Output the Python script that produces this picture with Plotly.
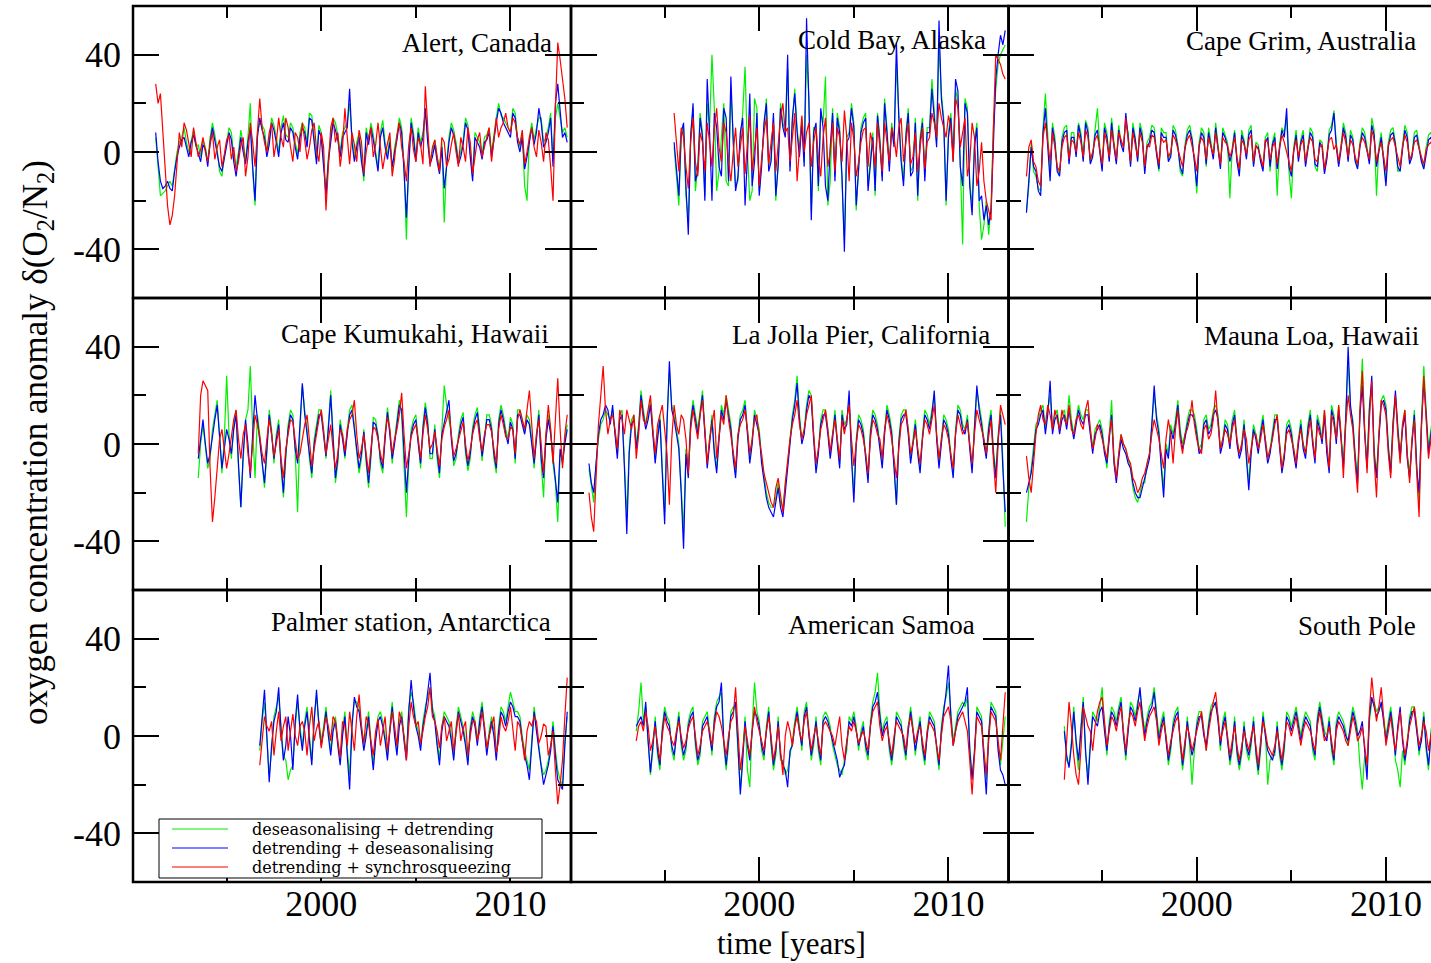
import numpy as np
import plotly.graph_objects as go
from plotly.subplots import make_subplots

# ---------------- data ----------------
STATIONS = ["Alert, Canada", "Cold Bay, Alaska", "Cape Grim, Australia",
            "Cape Kumukahi, Hawaii", "La Jolla Pier, California", "Mauna Loa, Hawaii",
            "Palmer station, Antarctica", "American Samoa", "South Pole"]
START_YEAR = [1991.25, 1995.5, 1991.0, 1993.5, 1991.0, 1991.0, 1996.75, 1993.5, 1993.0]
STEP_YEARS = 0.25          # spacing of the main samples; *_MID samples sit half a step later
METHODS = ["deseasonalising + detrending", "detrending + deseasonalising",
           "detrending + synchrosqueezing"]
X_TICKS = [2000, 2010]
Y_TICKS = [-40, 0, 40]
Y_TICKTEXT = ["-40", "0", "40"]

# Alert, Canada
ALERT_DSDT = [6, -18, -16, -12, -6, 4, 10, 0, 9, 3, 5, -4, 12, 1, -10, 4, 8, -6, 9, -3,
              20, -22, 12, 9, 5, 11, 0, 15, 6, 10, -1, 12, 4, 15, -3, 8, -16, 6, 12, 0,
              10, 20, -2, 8, -12, 5, 7, -6, 13, -1, -8, 7, 10, -36, 14, -2, 4, 16, -3, 5,
              -7, -29, 6, 9, -3, 5, 11, -10, 6, -1, 7, 0, 14, 15, 12, 8, 16, 2, -14, 6,
              5, 14, 4, 10, -4, 20, 8, 6]
ALERT_DSDT_MID = [-8, -17, -14, -14, 0, 6, 4, 5, 2, -2, 2, 6, 7, -8, -2, 10, -2, 0, 2, 6,
                  -8, 8, 11, 0, 14, 6, 10, 7, 12, 4, 8, 10, 16, 6, 11, -4, -2, 14, 7, 8,
                  12, 6, 4, -2, 10, 12, 0, 8, 4, 6, 2, 14, -6, -4, 8, 10, 8, 6, 0, -2,
                  4, -4, 12, 4, 0, 14, 0, 8, 4, 6, 10, 8, 20, 14, 10, 18, 6, 8, -20, 12,
                  10, 14, 6, 16, 14, 14, 10]
ALERT_DTDS = [8, -12, -14, -15, -8, 2, 6, -2, 7, 0, 3, -6, 10, -1, -8, 2, 5, -10, 6, -5,
              10, -20, 14, 6, 3, 9, -2, 12, 4, 8, -3, 10, 2, 13, -5, 6, -18, 4, 9, -2,
              8, 26, -4, 6, -10, 3, 5, -8, 10, -3, -6, 5, 8, -27, 12, -4, 2, 18, -5, 3,
              -9, -15, 4, 7, -5, 3, 9, -12, 4, -3, 5, -2, 12, 16, 10, 6, 14, 0, -7, 4,
              3, 18, 2, 8, -6, 28, 6, 4]
ALERT_DTDS_MID = [-4, -15, -12, -16, -2, 5, 2, 4, 3, -4, 1, 4, 5, -6, -3, 8, -4, -2, 0, 4,
                  -6, 6, 9, -2, 12, 4, 8, 5, 10, 2, 6, 8, 14, 4, 9, -6, -4, 12, 5, 6,
                  10, 4, 2, -4, 8, 10, -2, 6, 2, 4, 0, 12, -8, -6, 6, 8, 6, 4, -2, -4,
                  2, -6, 10, 2, -2, 12, -2, 6, 2, 4, 8, 6, 18, 12, 8, 16, 4, 6, -2, 10,
                  8, 12, 4, 14, 20, 16, 8]
ALERT_DTSQ = [28, 24, -5, -30, -18, 8, 12, 4, 10, -2, 6, -4, 8, 2, -6, 5, -3, -8, 3, -10,
              12, -6, 22, 4, 8, -2, 14, 2, 10, -4, 6, 12, -3, 9, 1, 8, -24, 10, 4, -6,
              18, -5, 3, 9, -9, 6, -2, 12, -7, 4, -10, 7, 2, -12, 10, -4, 3, 27, -6, 5,
              -8, 4, -3, 8, -6, 2, 10, -9, 5, -2, 6, -4, 14, 10, 16, 8, 12, 3, -5, 6,
              2, 9, -4, 5, -20, 45, 30, 10]
ALERT_DTSQ_MID = [20, 10, -22, -26, -6, 2, 9, -2, 4, 1, 0, 3, -3, 5, -1, 7, 2, -4, 6, -2,
                  4, 8, 10, 0, 12, 4, 6, 14, 2, 8, 0, 5, 2, 12, -4, 2, -6, 14, 8, 2,
                  6, 8, -4, 4, 0, 10, 3, 2, -1, 8, -3, 12, -4, 3, 1, 6, -5, 8, 2, -2,
                  6, -6, 3, 0, 6, -4, 4, -2, 8, 2, 10, 6, 6, 12, 10, 14, 6, 9, 0, 10,
                  -2, 4, 8, -6, 18, 38, 22]

# Cold Bay, Alaska
COLDBAY_DSDT = [2, -22, 10, -28, 18, -6, 8, 20, 40, -16, 8, -12, 26, -14, 6, 35, -20, 22, -16, 10,
                -6, 14, -4, 12, 34, 12, 10, 14, 40, -24, 10, 16, 31, -12, -10, 10, -36, 8, 12, -4,
                14, -14, 8, 16, -10, 10, 12, 36, -2, 8, -8, 14, 6, -10, 10, 16, 44, 14, 8, -2,
                20, -38, 18, -22, 12, -36, -20, -22, 26, 40, 44]
COLDBAY_DSDT_MID = [-10, 6, -18, 8, -16, 16, -18, 10, 18, -8, 20, -14, 6, -12, 16, 0, -16, 18, -4, 22,
                    -2, -20, 20, 8, -6, 26, 0, -4, 22, 10, -16, 12, -22, 18, 16, -12, 6, 20, -24, 10,
                    16, -2, -18, 6, 22, -6, 4, 16, -12, 18, -6, -20, 14, 10, 30, 4, 24, -22, 16, 26,
                    -4, 22, -12, 4, -22, -30, -34, 10, 36, 42]
COLDBAY_DTDS = [4, -18, 12, -34, 20, -8, 6, 30, -20, 10, -10, 14, 31, -16, 8, -22, 24, -4, -18, 12,
                -8, 16, -6, 10, 40, 14, 8, 12, 55, -28, 12, 18, -14, 2, -12, 8, -41, 6, 10, -6,
                12, -16, 6, 15, -12, 8, 10, 45, -4, 6, -10, 12, 4, -12, 8, 14, 54, 12, 6, -4,
                25, -14, 16, -26, 10, -18, -22, -24, 30, 48, 50]
COLDBAY_DTDS_MID = [-6, 8, -14, 6, -12, 14, -20, 8, 16, -6, 18, -12, 4, -10, 14, -2, -14, 16, -6, 20,
                    -4, -18, 18, 6, -8, 24, -2, -6, 20, 8, -14, 10, -20, 16, 14, -10, 4, 18, -22, 8,
                    14, -4, -16, 4, 20, -8, 2, 14, -14, 16, -8, -18, 12, 8, 26, 2, 22, -20, 14, 30,
                    -6, 20, -14, 2, -20, -28, -30, 8, 40, 44]
COLDBAY_DTSQ = [16, -8, 6, -15, 14, -10, 4, 12, -6, 18, -4, 8, -12, 10, 2, -9, 15, 0, -14, 8,
                -5, 12, 3, 20, 10, 6, -12, 15, 8, -6, 10, -10, 14, 0, -8, 6, 17, -12, 5, -4,
                9, -6, 3, 12, -8, 5, 10, -2, 14, 4, -5, 8, 2, -7, 6, 12, 20, 10, 15, -4,
                18, 8, -10, 12, -14, 4, -20, -28, 40, 36, 30]
COLDBAY_DTSQ_MID = [2, 10, -6, 4, -4, 8, -8, 4, 10, 2, 12, -4, 0, -6, 10, 4, -8, 10, -2, 14,
                    4, -8, 14, 8, -4, 16, 2, 0, 12, 4, -2, 6, -6, 12, 10, -4, 6, 12, -10, 4,
                    10, 8, -6, 2, 12, -4, 6, 10, -4, 12, -2, -8, 10, 4, 16, 6, 14, 6, 10, 22,
                    2, 14, -4, 6, -8, -12, -24, 10, 38, 32]

# Cape Grim, Australia
CAPEGRIM_DSDT = [-24, 4, -10, -16, 24, -10, 6, -9, 10, -4, 8, 12, -3, 10, -1, 18, -7, 8, 14, -4,
                 4, 12, -5, 6, 12, -8, 6, 10, -8, 8, -3, 11, 3, -10, 9, 6, -17, 10, -6, 4,
                 12, -6, 7, -19, 9, -9, 5, 9, -5, 3, -7, 8, 4, -18, 10, 14, -19, 9, 5, -5,
                 10, -6, 5, -8, 9, 17, -5, 12, -3, 6, -6, 10, 2, 14, -18, 8, -12, 9, 4, -7,
                 11, -4, 8, 3, -6, 7, 4]
CAPEGRIM_DSDT_MID = [-14, -8, -15, 10, 4, 12, -7, 6, 11, 8, -1, 8, 13, -4, 9, 2, 12, -3, 4, 11,
                     2, 8, 12, -3, 8, 4, 11, 0, 10, 8, -1, 9, -8, 3, 11, -3, 4, 8, 10, -2,
                     3, 10, 4, 2, -3, 9, -2, 11, 4, -3, 6, -8, 8, 3, 8, -8, 2, -3, 9, 3,
                     8, -8, 4, -2, 11, 4, 3, 8, 9, -3, 4, 8, -4, 9, 2, -3, 4, 10, -8, 3,
                     8, -1, 9, -3, 2, 8]
CAPEGRIM_DTDS = [-25, 2, -8, -18, 18, -12, 4, -10, 8, -5, 6, 11, -4, 8, -2, 9, -8, 6, 12, -5,
                 3, 16, -6, 5, 10, -9, 4, 8, -7, 6, -4, 9, 2, -9, 7, 5, -14, 8, -5, 3,
                 10, -7, 6, -4, 8, -10, 4, 7, -6, 2, -8, 6, 3, -7, 9, 18, -10, 7, 4, -6,
                 8, -5, 4, -9, 7, 16, -6, 10, -4, 5, -7, 8, 1, 11, -6, 6, -14, 7, 3, -8,
                 9, -5, 6, 2, -7, 5, 3]
CAPEGRIM_DTDS_MID = [-12, -6, -16, 8, 2, 10, -8, 4, 9, 6, -2, 6, 12, -5, 7, 0, 10, -4, 2, 9,
                     0, 6, 10, -4, 6, 2, 9, -1, 8, 6, -2, 7, -6, 1, 9, -4, 2, 6, 8, -3,
                     1, 8, 2, 0, -4, 7, -3, 9, 2, -4, 4, -6, 6, 1, 6, -6, 0, -4, 7, 1,
                     6, -6, 2, -3, 9, 2, 1, 6, 7, -4, 2, 6, -5, 7, 0, -4, 2, 8, -6, 1,
                     6, -2, 7, -4, 0, 6]
CAPEGRIM_DTSQ = [-10, 5, -6, -14, 12, -4, 2, -8, 6, -3, 4, 8, -2, 6, 0, 7, -5, 4, 9, -3,
                 5, 14, -4, 3, 8, -6, 2, 6, -5, 4, -2, 7, 1, -6, 5, 3, -8, 6, -3, 2,
                 8, -5, 4, -2, 6, -7, 3, 5, -4, 1, -6, 4, 2, -5, 7, 0, -8, 5, 3, -4,
                 6, -3, 2, -7, 5, 1, -4, 8, -2, 3, -5, 6, 0, 9, -4, 4, -8, 5, 2, -6,
                 7, -3, 4, 1, -5, 3, 2]
CAPEGRIM_DTSQ_MID = [2, -4, -12, 6, 4, 8, -6, 2, 7, 5, 0, 4, 9, -3, 5, 1, 8, -2, 3, 8,
                     2, 5, 8, -2, 4, 3, 7, 1, 6, 5, 0, 5, -3, 2, 7, -2, 3, 4, 6, -1,
                     2, 6, 3, 1, -2, 5, -1, 7, 3, -2, 5, -3, 4, 2, 4, -4, 1, -2, 5, 2,
                     4, -4, 3, -1, 6, 3, 2, 4, 5, -2, 3, 4, -3, 5, 1, -2, 3, 6, -3, 2,
                     4, -1, 5, -2, 1, 4]

# Cape Kumukahi, Hawaii
KUMUKAHI_DSDT = [-14, 8, -10, 6, 18, -12, 28, -6, 14, -26, 10, 32, -14, 4, -18, 14, -8, 10, -22, 8,
                 12, -28, 24, 6, -14, 8, 14, -6, 22, -16, 10, -6, 14, 8, -12, 6, -18, 11, 4, -12,
                 15, -8, 10, 12, -30, 6, 12, -10, 17, -6, 8, -14, 24, 10, -9, 4, 13, -11, 7, 15,
                 -7, 12, 8, -12, 16, 6, 11, -8, 14, 5, 10, -10, 14, -22, 12, -8, -32, -6, 8]
KUMUKAHI_DSDT_MID = [0, -2, -6, 12, 4, 2, 4, 8, -10, -6, 14, 6, 12, -8, -4, 6, 4, -10, -6, 14,
                     -4, 6, 14, -6, 2, 14, 6, 8, 4, -8, 4, 6, 16, -4, -6, -8, -6, 10, -8, 4,
                     6, 2, 18, -8, -8, 10, 2, 8, 10, -6, -6, 6, 16, 4, -6, 10, -4, -6, 12, 6,
                     4, 12, -6, 10, 12, 2, 8, 14, 10, 12, 2, 4, -8, 4, 6, -16, -4, 2]
KUMUKAHI_DTDS = [-6, 10, -8, 4, 16, -10, 6, -4, 12, -26, 10, -14, 20, 2, -16, 12, -6, 8, -20, 6,
                 10, -8, 25, 4, -12, 6, 12, -5, 20, -14, 8, -5, 12, 6, -10, 5, -16, 9, 3, -10,
                 13, -6, 8, 14, -20, 4, 10, -8, 15, -4, 6, -12, 9, 18, -7, 3, 11, -9, 5, 13,
                 -5, 10, 6, -10, 14, 4, 9, -6, 12, 4, 8, -8, 12, -14, 10, -6, -24, -8, 6]
KUMUKAHI_DTDS_MID = [2, 0, -4, 10, 2, -2, 2, 6, -8, -4, 0, 4, 10, -6, -2, 4, 2, -8, -4, 12,
                     -2, 8, 12, -4, 0, 12, 4, 6, 2, -6, 2, 4, 14, -2, -4, -6, -4, 8, -6, 2,
                     4, 0, 16, -6, -6, 8, 0, 6, 8, -4, -4, 4, 14, 2, -4, 8, -2, -4, 10, 4,
                     2, 10, -4, 8, 10, 0, 6, 12, 8, 10, 0, 2, -6, 2, 4, -14, -2, 0]
KUMUKAHI_DTSQ = [-4, 26, 22, -32, -8, 6, -10, 4, 14, -6, 8, -12, 12, 3, -8, 10, -5, 6, -14, 4,
                 9, -6, 2, 12, -9, 5, 14, -4, 8, -10, 6, -3, 10, 18, -6, 4, -12, 7, 2, -8,
                 11, -4, 6, 21, -10, 3, 8, -6, 12, -2, 5, -9, 7, 14, -5, 2, 9, -7, 4, 10,
                 -3, 8, 5, -8, 12, 3, 7, -4, 14, 6, 22, -6, 10, -12, 16, -8, 27, -10, 12]
KUMUKAHI_DTSQ_MID = [20, 24, -10, -22, 2, -2, -4, 10, 2, 4, -4, 2, 8, -4, 2, 4, 0, -6, -2, 10,
                     2, -4, 8, 0, -2, 10, 4, 2, -2, -4, 4, 6, 12, 4, -2, -4, -2, 6, -4, 4,
                     6, 2, 12, 4, -4, 6, 2, 4, 6, 0, -2, 2, 10, 4, -2, 6, 0, -2, 8, 2,
                     4, 8, -2, 6, 8, 2, 6, 10, 10, 14, 8, 4, 0, 4, 6, 10, 6, 4]

# La Jolla Pier, California
LAJOLLA_DSDT = [-10, -24, 2, 10, 12, 14, -4, 14, -30, 10, 0, 22, 8, 18, -6, 12, -28, 30, 12, 0,
                -36, -10, 18, 6, 22, -8, 12, -10, 16, 20, 8, -12, 12, 18, -6, 14, 6, -14, -24, -26,
                -16, -26, -8, 12, 28, 2, 16, 20, -10, 10, 14, -4, 14, -8, 8, 18, -20, 12, 6, -14,
                14, 8, -8, 16, 6, -25, 12, 14, -6, 10, -10, 14, 8, 20, -8, 12, 6, -12, 16, 8,
                12, -10, 22, 10, -4, 14, -12, 14, -34]
LAJOLLA_DSDT_MID = [-18, -8, 8, 14, 10, 6, 12, -8, -2, 12, 8, 14, 12, 6, 4, -10, 10, 16, 6, -18,
                    -2, 10, 12, 14, 6, 2, -2, 4, 12, 14, -4, 4, 14, 6, 2, 10, -6, -20, -26, -22,
                    -24, -18, 2, 18, 12, 6, 22, 4, -2, 14, 6, 4, 2, 14, 10, -4, 2, 10, -4, 6,
                    12, 0, 6, 12, -8, 2, 14, 6, 2, -2, 4, 12, 14, 4, 2, 10, -4, 6, 14, 6,
                    0, 8, 16, 2, 8, -2, 4, -6]
LAJOLLA_DTDS = [-8, -20, 4, 12, 14, 16, -6, 12, -37, 8, -2, 20, 6, 16, -8, 10, -33, 34, 10, -2,
                -43, -14, 16, 4, 20, -10, 10, -12, 14, 18, 6, -14, 10, 16, -8, 12, 4, -16, -26, -30,
                -18, -30, -10, 10, 25, 0, 14, 18, -12, 8, 12, -6, 12, -10, 6, 22, -24, 10, 4, -16,
                12, 6, -10, 14, 4, -25, 10, 12, -8, 8, -12, 12, 6, 22, -10, 10, 4, -14, 14, 6,
                10, -12, 24, 8, -6, 12, -14, 12, -28]
LAJOLLA_DTDS_MID = [-16, -6, 10, 16, 8, 4, 10, -10, -4, 10, 6, 12, 10, 4, 2, -12, 8, 14, 4, -20,
                    -4, 8, 10, 12, 4, 0, -4, 2, 10, 12, -6, 2, 12, 4, 0, 8, -8, -22, -28, -24,
                    -26, -20, 0, 16, 10, 4, 20, 2, -4, 12, 4, 2, 0, 12, 8, -6, 0, 8, -6, 4,
                    10, -2, 4, 10, -10, 0, 12, 4, 0, -4, 2, 10, 12, 2, 0, 8, -6, 4, 12, 4,
                    -2, 6, 14, 0, 6, -4, 2, -10]
LAJOLLA_DTSQ = [-20, -36, 8, 32, 4, 12, -2, 10, 14, 6, -6, 18, 8, 20, -4, 12, 6, -25, 16, 4,
                10, -12, 14, 2, 18, -8, 8, -6, 12, 20, 3, -10, 8, 14, -4, 10, 2, -12, -20, -26,
                -14, -28, -6, 8, 18, 2, 12, 20, -8, 6, 14, -3, 10, -6, 4, 16, -9, 8, 2, -12,
                10, 4, -6, 12, 2, -14, 8, 14, -4, 6, -8, 10, 4, 16, -6, 8, 2, -10, 12, 4,
                9, -8, 14, 6, -4, 10, -20, 16, 8]
LAJOLLA_DTSQ_MID = [-30, -12, 20, 14, 10, 6, 14, 4, 10, 12, 4, 10, 14, 6, 8, 16, -4, 2, 8, 12,
                    2, 6, 8, 12, 6, 2, 14, 4, 8, 10, -4, 4, 10, 6, 2, 12, -4, -16, -24, -18,
                    -22, -16, 2, 12, 8, 6, 16, 4, -2, 10, 6, 4, 2, 10, 10, 2, 0, 6, -4, 2,
                    8, 2, 6, 8, -6, -2, 10, 6, 0, -2, 2, 8, 10, 4, 2, 6, -4, 4, 8, 6,
                    0, 4, 10, 2, 4, -6, 0, 12]

# Mauna Loa, Hawaii
MAUNALOA_DSDT = [-32, -10, 8, 14, 6, 20, 12, 6, 14, 20, 4, 16, 10, 14, -2, 8, 6, -10, 18, -14,
                 4, -2, -10, -22, -20, -16, -4, 20, 6, -18, -4, 4, 18, 0, 10, 14, 6, 0, 12, 8,
                 16, -2, 10, 0, 14, -4, 10, -16, 8, -2, 12, -6, 6, 12, -10, 8, 6, -8, 10, -4,
                 14, -6, 8, 14, -10, 12, 16, -8, 34, 10, -14, 35, -8, 24, -12, 18, 16, -10, 20, -4,
                 14, -12, 14, -26, 32, -2, 12]
MAUNALOA_DSDT_MID = [-18, -2, 10, 16, 14, 6, 14, 12, 8, 10, 10, 12, 14, 6, 6, 10, -2, 4, -6, -4,
                     0, -6, -18, -24, -16, -8, 10, 12, -8, 0, 8, 10, 6, 4, 14, 12, -2, 10, 6, 14,
                     12, 2, 8, 10, 2, 0, -4, -2, 4, 6, 2, -2, 12, 0, -4, 10, -2, 2, 0, 8,
                     2, 12, 2, -2, 16, 2, 4, 12, 14, -4, 14, 6, 16, -2, 4, 20, 0, 10, 8, 8,
                     -4, 2, -8, 10, 14, 6]
MAUNALOA_DTDS = [-20, -12, 6, 12, 4, 26, 10, 4, 12, 14, 2, 14, 8, 12, -4, 6, 4, -8, 12, -16,
                 2, -4, -10, -20, -22, -14, -6, 24, 4, -22, -6, 2, 16, -2, 8, 12, 4, -2, 10, 6,
                 14, -4, 8, -2, 12, -6, 8, -19, 6, -4, 10, -8, 4, 10, -12, 6, 4, -10, 8, -6,
                 12, -8, 6, 12, -12, 10, 14, -10, 40, 8, -16, 24, -10, 28, -14, 16, 14, -12, 22, -6,
                 12, -14, 12, -20, 26, -4, 10]
MAUNALOA_DTDS_MID = [-16, -4, 8, 14, 12, 4, 12, 10, 6, 8, 8, 10, 12, 4, 4, 8, -4, 2, -8, -6,
                     -2, -8, -16, -22, -18, -10, 8, 10, -10, -2, 6, 8, 4, 2, 12, 10, -4, 8, 4, 12,
                     10, 0, 6, 8, 0, -2, -6, -4, 2, 4, 0, -4, 10, -2, -6, 8, -4, 0, -2, 6,
                     0, 10, 0, -4, 14, 0, 2, 10, 16, -6, 12, 4, 14, -4, 2, 18, -2, 8, 6, 6,
                     -6, 0, -10, 8, 12, 4]
MAUNALOA_DTSQ = [-5, -20, 4, 16, 8, 12, 14, 6, 10, 16, 4, 12, 6, 18, -2, 8, 2, -6, 10, -14,
                 4, -2, -8, -16, -18, -12, -4, 10, 2, -10, 10, -8, 14, -4, 6, 18, 2, -4, 8, 4,
                 22, -2, 6, 0, 10, -4, 6, -8, 4, -2, 8, -6, 2, 12, -10, 4, 2, -8, 6, -4,
                 10, -6, 4, 14, -10, 8, 16, -14, 20, 6, -20, 30, -12, 26, -22, 18, 12, -14, 20, -8,
                 14, -16, 10, -30, 28, -6, 8]
MAUNALOA_DTSQ_MID = [-14, -8, 12, 10, 16, 6, 10, 14, 8, 6, 10, 8, 14, 6, 2, 6, -2, 4, -6, -4,
                     0, -6, -14, -20, -14, -8, 4, 6, -4, 2, 4, 6, 2, 4, 10, 8, -2, 6, 2, 10,
                     8, 2, 4, 6, 2, 0, 2, -2, 4, 2, 2, -2, 8, 0, -4, 6, -2, 2, 0, 4,
                     2, 8, 2, 0, 12, 2, 4, 8, 12, -8, 14, 6, 10, -6, 4, 16, -4, 6, 4, 8,
                     -4, 2, -12, 6, 10, 2]

# Palmer station, Antarctica
PALMER_DSDT = [-6, 14, -16, 8, 16, -8, -18, -12, 14, -4, 12, -10, 16, -2, 12, -6, 8, -10, 10, -16,
               14, 12, -4, 10, -12, 8, 6, -8, 14, -6, 10, -8, 18, 6, -4, 12, 20, 8, -10, 10,
               6, -8, 12, 4, -10, 10, -2, 14, -6, 8, -8, 12, 6, 18, 10, 8, -6, -14, 12, -4,
               -16, -10, 6, -14, -20, 8]
PALMER_DSDT_MID = [6, -2, -6, 12, 4, -10, -14, 4, 4, 6, 0, 8, 6, 4, 2, 4, -2, 2, -6, 6,
                   14, 4, 2, -2, 0, 10, 0, 4, 2, 6, 0, 12, 14, 2, 6, 16, 12, -2, 4, 8,
                   0, 4, 8, -2, 4, 6, 8, 4, 2, 2, 4, 10, 12, 14, 10, 0, -10, -2, 4, -12,
                   -14, -4, -6, -18, -2]
PALMER_DTDS = [-4, 19, -19, 6, 20, -10, 8, -14, 17, -6, 10, -12, 19, -4, 10, -8, 6, -12, 8, -22,
               16, 10, -6, 8, -14, 6, 4, -10, 12, -8, 8, -10, 23, 4, -6, 10, 26, 6, -12, 8,
               4, -10, 10, 2, -12, 8, -4, 12, -8, 6, -10, 10, 4, 14, 8, 6, -8, -18, 10, -6,
               -20, -12, 4, -18, -22, 10]
PALMER_DTDS_MID = [8, 0, -4, 10, 2, -4, 0, 6, 2, 4, -2, 6, 4, 2, 0, 2, -4, 0, -8, 4,
                   12, 2, 0, -4, -2, 8, -2, 2, 0, 4, -2, 10, 12, 0, 4, 18, 10, -4, 2, 6,
                   -2, 2, 6, -4, 2, 4, 6, 2, 0, 0, 2, 8, 10, 12, 8, -2, -12, -4, 2, -14,
                   -16, -6, -8, -20, -4]
PALMER_DTSQ = [-12, 8, 2, -8, 10, 4, -6, 9, -4, 6, -8, 12, 3, -5, 8, -2, 6, -9, 4, 10,
               -6, 17, -3, 5, -8, 7, 2, -6, 10, -4, 6, -10, 14, 4, -3, 8, 20, 6, -5, 8,
               2, -6, 9, 3, -8, 6, -2, 10, -5, 4, -7, 8, 2, 12, -6, 4, -10, 6, 8, -3,
               5, -8, 2, -28, -10, 24]
PALMER_DTSQ_MID = [-2, 4, 6, 2, -2, 8, 2, 0, 4, 2, 4, -2, 6, 2, 4, 8, -2, 6, -4, 2,
                   8, 4, 8, -2, 2, -4, 8, 2, 4, 10, 0, 4, 8, 6, 2, 12, 8, 2, 4, -2,
                   6, 2, -2, 6, 0, 6, 2, 4, 0, 8, -2, 4, 6, 2, 6, -2, 2, 4, 6, 0,
                   4, -4, -14, -20, 8]

# American Samoa
SAMOA_DSDT = [2, 22, 12, -16, 8, -14, 12, 6, -10, 10, -10, 6, 12, -12, 6, 10, -8, 14, 18, -14,
              10, 12, -22, 8, -21, 22, 6, -10, 12, -14, 8, -10, -14, -2, 12, -6, 14, -10, 8, -12,
              10, 4, -8, -14, -10, 8, 10, -6, 6, -10, 14, 26, 2, 8, -12, 10, 6, -10, 12, -8,
              8, -12, 10, 6, -14, 12, 22, -2, 10, 14, 16, -16, 12, 8, -18, 14, 10, -12, 8]
SAMOA_DSDT_MID = [10, 6, -4, -6, -8, 4, 8, -6, 2, -4, -6, 10, -4, -8, 8, 2, 8, 16, -4, -4,
                  12, -6, -8, -14, 4, 10, -6, 4, -4, -8, -10, -16, -8, 6, 4, 10, 2, -4, -6, 8,
                  8, -4, -12, -16, -6, 6, 4, 2, -6, 6, 18, 10, 6, -6, -4, 8, -4, 4, 4, 2,
                  -6, 2, 8, -6, 4, 16, 10, 4, 12, 12, -4, -8, 10, -8, 2, 12, -4, -2]
SAMOA_DTDS = [4, 8, 14, -15, 6, -12, 10, 4, -8, 8, -8, 4, 10, -10, 4, 8, -6, 12, 22, -12,
              8, 14, -24, 6, -10, 10, 4, -8, 10, -12, 6, -12, -21, -4, 10, -4, 12, -8, 6, -10,
              8, 2, -6, -17, -12, 6, 8, -4, 4, -8, 12, 18, 0, 6, -10, 8, 4, -8, 10, -6,
              6, -10, 8, 4, -12, 10, 29, -4, 8, 12, 20, -18, 10, 6, -24, 12, 8, -14, -20]
SAMOA_DTDS_MID = [6, 4, -2, -4, -6, 2, 6, -4, 0, -2, -4, 8, -2, -6, 6, 0, 6, 14, -2, -2,
                  10, -4, -10, -4, 2, 8, -4, 2, -2, -6, -8, -14, -6, 4, 2, 8, 0, -2, -4, 6,
                  6, -2, -10, -14, -4, 4, 2, 0, -4, 4, 14, 8, 4, -4, -2, 6, -2, 2, 2, 0,
                  -4, 0, 6, -4, 2, 18, 8, 2, 10, 14, -6, -6, 8, -10, 0, 10, -6, -16]
SAMOA_DTSQ = [-2, 6, 10, -6, 4, -10, 8, 2, -4, 6, -5, 3, 8, -8, 2, 6, -4, 10, 4, -8,
              6, 20, -14, 4, -8, 12, 2, -6, 8, -10, 4, -16, 6, -4, 8, -2, 10, -6, 4, -8,
              6, 2, -4, 8, -10, 4, 6, -3, 2, -6, 10, 14, -2, 4, -8, 6, 2, -6, 8, -3,
              4, -8, 6, 2, -10, 8, 12, -4, 6, 10, 2, -24, 8, 4, -16, 10, 6, -10, 18]
SAMOA_DTSQ_MID = [4, 2, 4, -2, -4, 0, 4, -2, 2, 0, -2, 6, 0, -4, 4, 2, 4, 8, -2, 0,
                  8, 2, -6, -2, 2, 6, -2, 2, 0, -4, -6, 0, 2, 4, 2, 6, 2, 0, -2, 4,
                  4, 0, 2, -4, -2, 2, 2, 0, -2, 4, 12, 4, 2, -2, 0, 4, 0, 4, 2, 2,
                  -2, 2, 4, -4, 0, 10, 6, 2, 8, 6, -10, -8, 6, -6, -2, 8, -2, 4]

# South Pole
SOUTHPOLE_DSDT = [4, -12, 12, -14, 16, -16, 10, 6, 20, -8, 12, 6, 16, -10, 14, 8, 18, 2, 12, 20,
                  0, 10, -12, 6, 12, -14, 8, -20, 6, 10, -6, 12, 12, -6, 10, -12, 8, -14, 6, -10,
                  8, -16, 10, -20, -8, 6, -14, 10, 4, 12, 0, 10, 6, -10, 14, 2, 8, -12, 10, 6,
                  -4, 12, 2, -22, -14, 14, 10, 12, 0, 12, -10, -21, -12, 8, 12, -8, 10, -14, 8]
SOUTHPOLE_DSDT_MID = [-10, -2, -4, 4, -8, -2, 8, 12, 4, 6, 10, 12, 2, 4, 12, 14, 10, 8, 14, 10,
                      6, 0, -6, 10, -4, -6, -4, -6, 10, 2, 6, 14, 8, 6, 0, -6, -8, -8, -6, -4,
                      -8, -6, 2, -10, -8, -8, -6, 8, 8, 6, 6, 8, -6, 8, 8, 0, -6, 6, 8, 2,
                      6, 8, -12, -8, 6, 14, 12, 8, 6, 4, -14, -6, -2, 12, 4, 0, -6, 2]
SOUTHPOLE_DTDS = [2, -13, 10, -10, 14, -20, 8, 4, 12, -6, 10, 4, 14, -8, 12, 6, 20, 0, 10, 18,
                  -2, 8, -10, 4, 10, -12, 6, -8, 4, 8, -4, 10, 14, -4, 8, -10, 6, -12, 4, -8,
                  6, -14, 8, -6, -10, 4, -12, 8, 2, 10, -2, 8, 4, -8, 12, 0, 6, -10, 8, 4,
                  -2, 10, 0, 6, -18, 16, 8, 14, -2, 10, -8, 12, -10, 6, 10, -6, 8, -12, 6]
SOUTHPOLE_DTDS_MID = [-8, -4, -2, 2, -6, -4, 6, 10, 2, 4, 8, 10, 0, 2, 10, 12, 8, 6, 12, 8,
                      4, -2, -4, 8, -2, -4, -2, -4, 8, 0, 4, 12, 6, 4, -2, -4, -6, -6, -4, -2,
                      -6, -4, 0, -8, -6, -6, -4, 6, 6, 4, 4, 6, -4, 6, 6, -2, -4, 4, 6, 0,
                      4, 6, 2, -6, 8, 12, 10, 6, 4, 2, 4, -2, -4, 10, 2, -2, -4, 0]
SOUTHPOLE_DTSQ = [-18, 14, -8, -20, 12, 4, -6, 10, 16, -4, 8, 2, 12, -6, 10, 4, 14, -2, 8, 12,
                  -4, 6, -8, 2, 8, -10, 4, -6, 2, 10, -6, 8, 18, -2, 6, -8, 4, -10, 2, -6,
                  4, -12, 6, -4, -8, 2, -10, 6, 0, 8, -4, 6, 2, -6, 10, -2, 4, -8, 6, 2,
                  -4, 8, -2, 4, -12, 24, 6, 20, -4, 8, -6, 10, -8, 4, 12, -4, 6, -6, 4]
SOUTHPOLE_DTSQ_MID = [0, 4, -16, -6, 8, 2, 4, 14, 6, 2, 6, 8, 2, 4, 8, 10, 6, 4, 10, 6,
                      2, 0, -2, 6, 0, -2, 0, -2, 6, 2, 2, 14, 8, 2, 0, -2, -4, -4, -2, 0,
                      -4, -2, 2, -6, -4, -4, -2, 4, 4, 2, 2, 4, -2, 4, 4, 0, -2, 2, 4, -2,
                      2, 4, 0, -4, 10, 14, 12, 8, 2, 0, 2, 0, -2, 8, 4, 0, 2, 0]

SERIES = [
    [(ALERT_DSDT, ALERT_DSDT_MID), (ALERT_DTDS, ALERT_DTDS_MID), (ALERT_DTSQ, ALERT_DTSQ_MID)],
    [(COLDBAY_DSDT, COLDBAY_DSDT_MID), (COLDBAY_DTDS, COLDBAY_DTDS_MID), (COLDBAY_DTSQ, COLDBAY_DTSQ_MID)],
    [(CAPEGRIM_DSDT, CAPEGRIM_DSDT_MID), (CAPEGRIM_DTDS, CAPEGRIM_DTDS_MID), (CAPEGRIM_DTSQ, CAPEGRIM_DTSQ_MID)],
    [(KUMUKAHI_DSDT, KUMUKAHI_DSDT_MID), (KUMUKAHI_DTDS, KUMUKAHI_DTDS_MID), (KUMUKAHI_DTSQ, KUMUKAHI_DTSQ_MID)],
    [(LAJOLLA_DSDT, LAJOLLA_DSDT_MID), (LAJOLLA_DTDS, LAJOLLA_DTDS_MID), (LAJOLLA_DTSQ, LAJOLLA_DTSQ_MID)],
    [(MAUNALOA_DSDT, MAUNALOA_DSDT_MID), (MAUNALOA_DTDS, MAUNALOA_DTDS_MID), (MAUNALOA_DTSQ, MAUNALOA_DTSQ_MID)],
    [(PALMER_DSDT, PALMER_DSDT_MID), (PALMER_DTDS, PALMER_DTDS_MID), (PALMER_DTSQ, PALMER_DTSQ_MID)],
    [(SAMOA_DSDT, SAMOA_DSDT_MID), (SAMOA_DTDS, SAMOA_DTDS_MID), (SAMOA_DTSQ, SAMOA_DTSQ_MID)],
    [(SOUTHPOLE_DSDT, SOUTHPOLE_DSDT_MID), (SOUTHPOLE_DTDS, SOUTHPOLE_DTDS_MID), (SOUTHPOLE_DTSQ, SOUTHPOLE_DTSQ_MID)],
]


def series_xy(start, main, mid):
    t = np.concatenate([start + STEP_YEARS * np.arange(len(main)),
                        start + STEP_YEARS / 2 + STEP_YEARS * np.arange(len(mid))])
    v = np.concatenate([np.asarray(main, float), np.asarray(mid, float)])
    order = np.argsort(t, kind="stable")
    return t[order], v[order]


# ---------------- styling ----------------
COLORS = ["#00f000", "#0000ff", "#ff0000"]
FONT = "Liberation Serif"
LEGEND_FONT = "DejaVu Serif"
W, H = 1431, 963
ML, MR, MT, MB = 133, 0, 6, 81
PW = W - ML - MR
PH = H - MT - MB
COL_PX = [438, 437.5, PW - 438 - 437.5]
PX_PER_YEAR = 438 / 23.15
X0 = 1990.05
X_RANGES = [[X0, X0 + c / PX_PER_YEAR] for c in COL_PX]

fig = make_subplots(rows=3, cols=3, column_widths=COL_PX,
                    horizontal_spacing=0, vertical_spacing=0)

for k, (start, trio) in enumerate(zip(START_YEAR, SERIES)):
    r, c = k // 3 + 1, k % 3 + 1
    for m, ((main, mid), col) in enumerate(zip(trio, COLORS)):
        t, v = series_xy(start, main, mid)
        fig.add_trace(go.Scatter(x=t, y=v, mode="lines",
                                 line=dict(color=col, width=1.2),
                                 name=METHODS[m], showlegend=False), row=r, col=c)

for k in range(9):
    r, c = k // 3 + 1, k % 3 + 1
    fig.update_xaxes(row=r, col=c, range=X_RANGES[c - 1],
                     showline=True, linewidth=0.5, linecolor="black",
                     mirror="allticks", ticks="inside", ticklen=25, tickwidth=2,
                     tickcolor="black", tickvals=X_TICKS,
                     minor=dict(dtick=5, tick0=1995, ticklen=12, tickwidth=2,
                                ticks="inside", tickcolor="black", showgrid=False),
                     showgrid=False, zeroline=False,
                     showticklabels=(r == 3), ticklabelstandoff=-10,
                     tickfont=dict(family=FONT, size=36, color="black"))
    fig.update_yaxes(row=r, col=c, range=[-60, 60],
                     showline=True, linewidth=0.5, linecolor="black",
                     mirror=("allticks" if c < 3 else False),
                     ticks="inside", ticklen=26, tickwidth=2,
                     tickcolor="black", tickvals=Y_TICKS, ticktext=Y_TICKTEXT,
                     minor=dict(dtick=20, tick0=0, ticklen=13, tickwidth=2,
                                ticks="inside", tickcolor="black", showgrid=False),
                     showgrid=False, zeroline=False,
                     showticklabels=(c == 1), ticklabelstandoff=4,
                     tickfont=dict(family=FONT, size=36, color="black"))
    # panel frame
    sfx = "" if k == 0 else str(k + 1)
    fig.add_shape(type="rect", xref="x%s domain" % sfx, yref="y%s domain" % sfx,
                  x0=0, x1=(1 if c < 3 else 1.1), y0=0, y1=1,
                  line=dict(color="black", width=2.5), layer="above")

# right-hand ticks of the (cropped) third column
extra = {}
for i, base in enumerate(["y3", "y6", "y9"]):
    extra["yaxis%d" % (10 + i)] = dict(
        overlaying=base, anchor="free", position=1.0, side="right",
        range=[-60, 60], tickvals=Y_TICKS, ticks="inside", ticklen=10,
        tickwidth=2, tickcolor="black", showticklabels=False,
        showline=False, showgrid=False, zeroline=False)
fig.update_layout(**extra)


def px_x(px):
    return (px - ML) / PW


def px_y(py):
    return (H - MB - py) / PH


# station titles
TITLE_POS = [(554, 43), (988, 40), (1418, 41),
             (551, 334), (992, 335), (1421, 336),
             (553, 622), (977, 625), (1418, 626)]
for name, (px, py) in zip(STATIONS, TITLE_POS):
    fig.add_annotation(text=name, xref="paper", yref="paper",
                       x=px_x(px), y=px_y(py),
                       xanchor="right", yanchor="middle", showarrow=False,
                       font=dict(family=FONT, size=27, color="black"))

fig.add_annotation(text="oxygen concentration anomaly δ(O<sub>2</sub>/N<sub>2</sub>)",
                   xref="paper", yref="paper", x=px_x(38), y=px_y(443),
                   textangle=-90, xanchor="center", yanchor="middle", showarrow=False,
                   font=dict(family=FONT, size=35, color="black"))
fig.add_annotation(text="time [years]", xref="paper", yref="paper",
                   x=px_x(791), y=px_y(962.5),
                   xanchor="center", yanchor="bottom", showarrow=False, borderpad=0,
                   font=dict(family=FONT, size=31, color="black"))

# legend box (bottom-left panel)
fig.add_shape(type="rect", xref="paper", yref="paper",
              x0=px_x(159), x1=px_x(542), y0=px_y(878), y1=px_y(819),
              line=dict(color="black", width=1), fillcolor="white", layer="above")
for m, (label, col) in enumerate(zip(METHODS, COLORS)):
    yy = 829 + 19 * m
    fig.add_shape(type="line", xref="paper", yref="paper",
                  x0=px_x(172), x1=px_x(228), y0=px_y(yy), y1=px_y(yy),
                  line=dict(color=col, width=1.2), layer="above")
    fig.add_annotation(text=label, xref="paper", yref="paper",
                       x=px_x(250), y=px_y(yy), xanchor="left", yanchor="middle",
                       showarrow=False,
                       font=dict(family=LEGEND_FONT, size=16, color="black"))

fig.update_layout(
    width=W, height=H,
    margin=dict(l=ML, r=MR, t=MT, b=MB),
    paper_bgcolor="white", plot_bgcolor="white",
    showlegend=False,
)

fig.write_html("out.html")
